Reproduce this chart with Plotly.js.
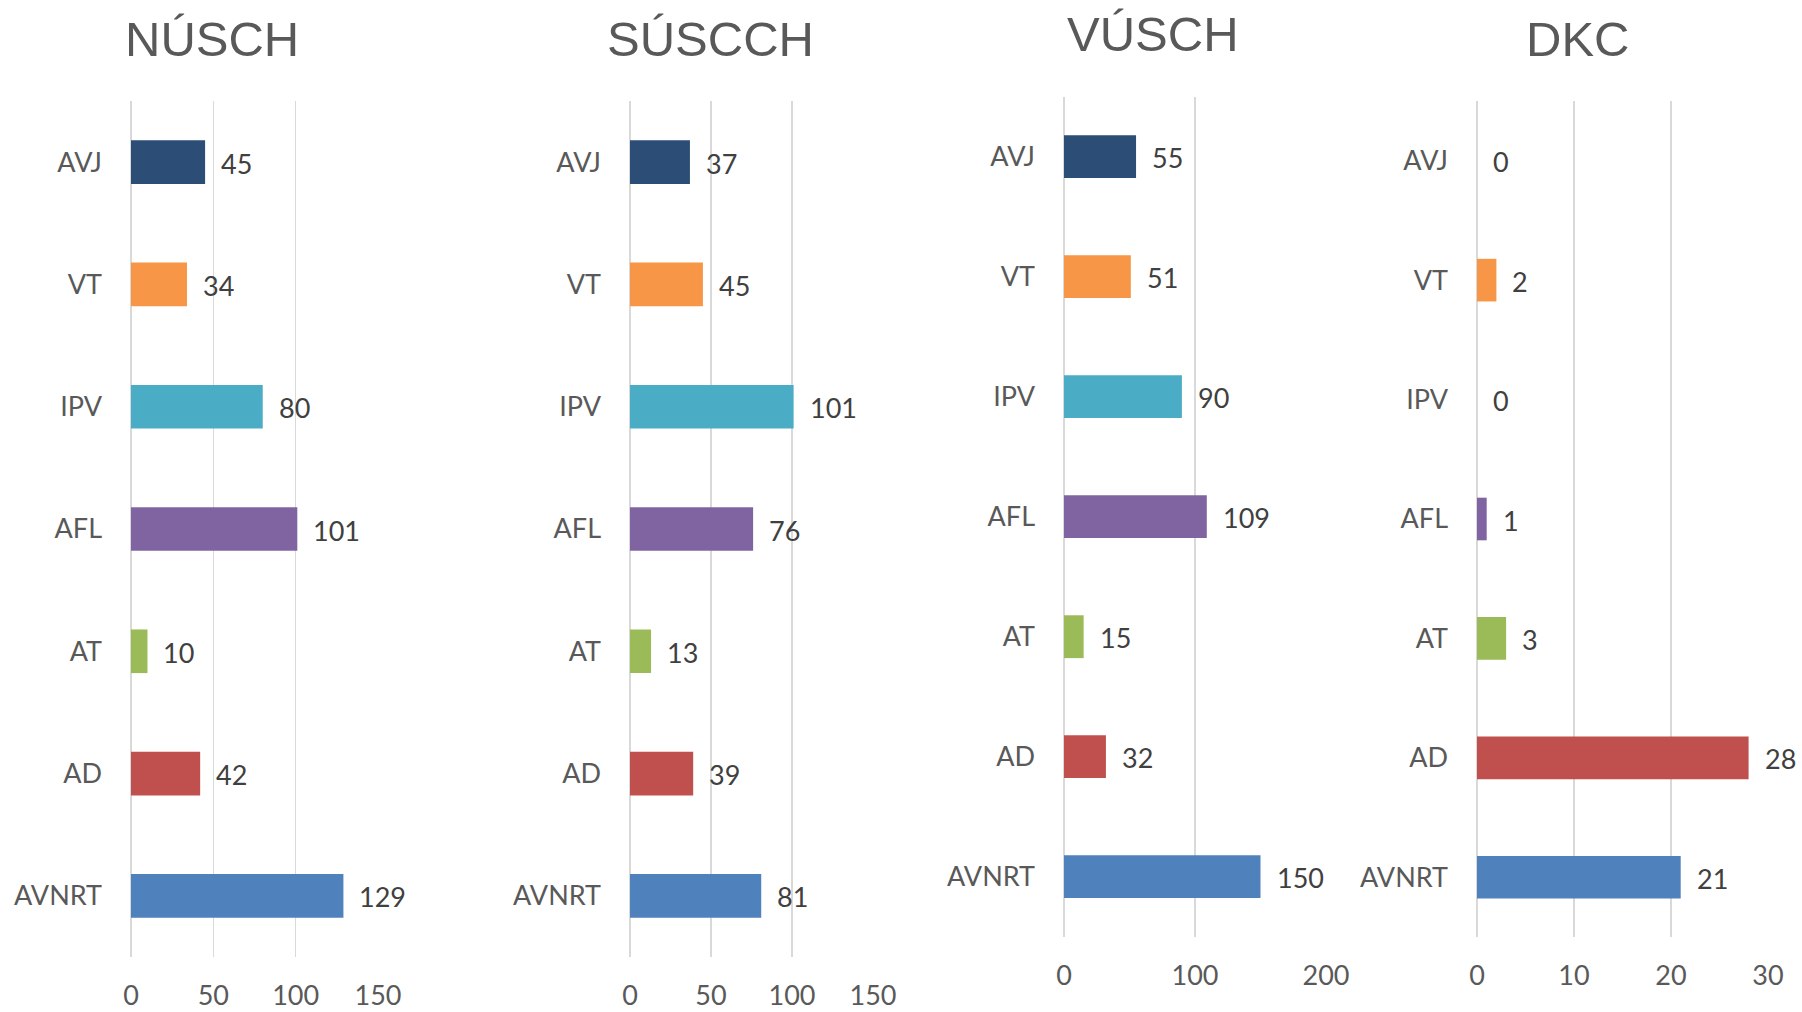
<!DOCTYPE html>
<html>
<head>
<meta charset="utf-8">
<script src="https://cdn.plot.ly/plotly-3.0.1.min.js"></script>
<style>
html,body{margin:0;padding:0;background:#fff;}
#chart{width:1802px;height:1012px;}
</style>
</head>
<body>
<div id="chart"></div>
<script>
// ---- data ----
const categories = ["AVJ", "VT", "IPV", "AFL", "AT", "AD", "AVNRT"];
const panelTitles = ["NÚSCH", "SÚSCCH", "VÚSCH", "DKC"];
const valuesNUSCH  = [45, 34, 80, 101, 10, 42, 129];
const valuesSUSCCH = [37, 45, 101, 76, 13, 39, 81];
const valuesVUSCH  = [55, 51, 90, 109, 15, 32, 150];
const valuesDKC    = [0, 2, 0, 1, 3, 28, 21];
const tickValsNUSCH  = [0, 50, 100, 150];
const tickValsSUSCCH = [0, 50, 100, 150];
const tickValsVUSCH  = [0, 100, 200];
const tickValsDKC    = [0, 10, 20, 30];
const barColors = ["#2C4D75", "#F79646", "#4BACC6", "#8064A2", "#9BBB59", "#C0504D", "#4F81BD"];

// ---- layout geometry (pixels) ----
const W = 1802, H = 1012;
const panels = [
  {vals: valuesNUSCH,  ticks: tickValsNUSCH,  range: [0,150], x0:131,  x1:378,  y0:101,   y1:957,   tx:212},
  {vals: valuesSUSCCH, ticks: tickValsSUSCCH, range: [0,150], x0:630,  x1:873,  y0:101,   y1:957,   tx:710},
  {vals: valuesVUSCH,  ticks: tickValsVUSCH,  range: [0,200], x0:1064, x1:1326, y0:96.7,  y1:936.7, tx:1153},
  {vals: valuesDKC,    ticks: tickValsDKC,    range: [0,30],  x0:1477, x1:1768, y0:101,   y1:937,   tx:1577}
];
const titleCapCenter = [39.5, 39.5, 34.5, 39.5];

const labelFont = {family: "Lato, 'Noto Sans', sans-serif", size: 27, color: "#595959"};
const dataFont  = {family: "Lato, 'Noto Sans', sans-serif", size: 27, color: "#404040"};
const titleFont = {family: "'Liberation Sans', Arial, sans-serif", size: 49, color: "#595959"};

const traces = [];
const layout = {
  width: W, height: H,
  margin: {l:0, r:0, t:0, b:0},
  paper_bgcolor: "#fff", plot_bgcolor: "#fff",
  showlegend: false,
  annotations: []
};

panels.forEach((p, i) => {
  const n = i === 0 ? "" : String(i + 1);
  const xa = "x" + n, ya = "y" + n;
  traces.push({
    type: "bar", orientation: "h",
    x: p.vals, y: categories,
    xaxis: xa, yaxis: ya,
    width: 0.357,
    marker: {color: barColors, line: {width: 0}},
    hoverinfo: "x+y"
  });
  layout["xaxis" + n] = {
    domain: [p.x0 / W, p.x1 / W],
    anchor: ya,
    range: p.range,
    tickvals: p.ticks,
    ticktext: p.ticks.map(String),
    showgrid: true, gridcolor: "#D9D9D9", gridwidth: 1.5,
    zeroline: true, zerolinecolor: "#D9D9D9", zerolinewidth: 1.5,
    showline: false, ticks: "",
    ticklabelstandoff: 20,
    tickfont: labelFont,
    fixedrange: true
  };
  layout["yaxis" + n] = {
    domain: [1 - p.y1 / H, 1 - p.y0 / H],
    anchor: xa,
    type: "category",
    categoryorder: "array", categoryarray: categories,
    range: [6.5, -0.5],
    showgrid: false, zeroline: false, showline: false, ticks: "",
    ticklabelstandoff: 28,
    tickfont: labelFont,
    fixedrange: true
  };
  // data labels
  p.vals.forEach((v, k) => {
    layout.annotations.push({
      xref: xa, yref: ya, x: v, y: categories[k],
      text: String(v), showarrow: false,
      xanchor: "left", yanchor: "middle", xshift: 14, yshift: -1,
      font: dataFont
    });
  });
  // panel title
  layout.annotations.push({
    xref: "paper", yref: "paper",
    x: p.tx / W, y: 1 - titleCapCenter[i] / H,
    text: panelTitles[i], showarrow: false,
    xanchor: "center", yanchor: "middle",
    font: titleFont
  });
});

Plotly.newPlot("chart", traces, layout, {displayModeBar: false, staticPlot: true});
</script>
</body>
</html>
